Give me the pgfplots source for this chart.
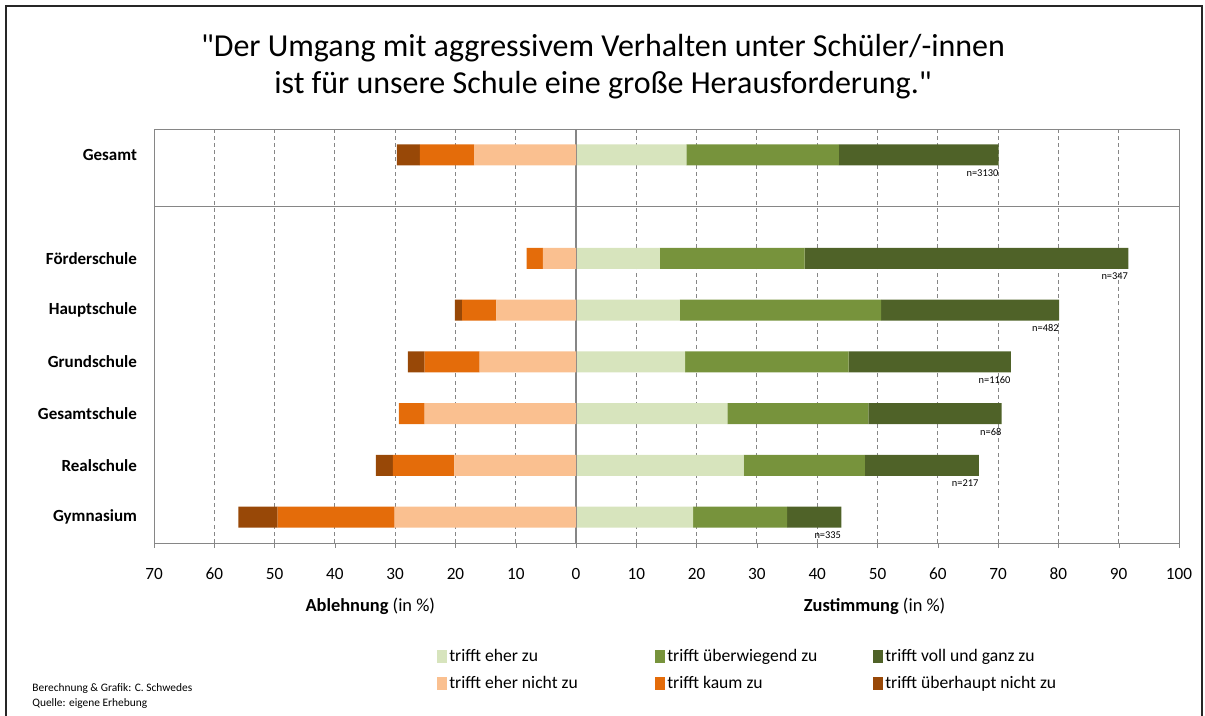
\documentclass[border=0pt]{standalone}
\usepackage{pgfplots}
\usepackage{pgfplotstable}
\pgfplotsset{compat=1.18}
\usepackage{fontspec}
\setmainfont{Carlito}[Ligatures=TeXOff]
\definecolor{c1}{HTML}{D7E4BD}
\definecolor{c2}{HTML}{77933C}
\definecolor{c3}{HTML}{4F6228}
\definecolor{c4}{HTML}{FAC090}
\definecolor{c5}{HTML}{E46C0A}
\definecolor{c6}{HTML}{984807}
\definecolor{ax}{HTML}{868686}

% positive side: trifft eher zu / ueberwiegend / voll und ganz
\pgfplotstableread{
y a b c
0 19.4 15.6 9.0
1 27.8 20.1 18.9
2 25.1 23.4 22.1
3 18.1 27.1 26.9
4 17.2 33.4 29.5
5 13.9 24.0 53.7
7 18.3 25.3 26.5
}\tabpos
% negative side: eher nicht / kaum / ueberhaupt nicht
\pgfplotstableread{
y a b c
0 -30.1 -19.4 -6.5
1 -20.2 -10.2 -2.8
2 -25.1 -4.3 0
3 -16.0 -9.1 -2.8
4 -13.2 -5.7 -1.2
5 -5.5 -2.7 0
7 -16.9 -9.0 -3.8
}\tabneg

\pgfplotsset{
  myaxis/.style={scale only axis, width=512.5pt, height=207pt,
    xmin=-70, xmax=100, ymin=-0.5, ymax=7.5,
    at={(77pt,86.5pt)}, anchor=south west,
    xbar stacked, bar width=0.41},
  sqleg/.style={legend image code/.code={\fill[##1] (0pt,-3.3pt) rectangle (5pt,3.3pt);}},
}

\begin{document}
\begin{tikzpicture}[x=0.5pt,y=0.5pt]
\path[use as bounding box] (0,0) rectangle (1205,716);
\draw[black!85, line width=0.7pt] (6,0) -- (6,710) -- (1202,710) -- (1202,0);

\node[align=center, font=\fontsize{16}{18.5}\selectfont] at (603,649)
  {"Der Umgang mit aggressivem Verhalten unter Schüler/-innen\\ist für unsere Schule eine große Herausforderung."};

\node[anchor=west, inner sep=0pt, font=\fontsize{5.7}{6}\selectfont] at (32,27) {Berechnung \& Grafik: C. Schwedes};
\node[anchor=west, inner sep=0pt, font=\fontsize{5.7}{6}\selectfont] at (32,12) {Quelle: eigene Erhebung};

\begin{axis}[myaxis, clip=false,
  axis line style={ax},
  xtick={-70,-60,...,100},
  xticklabels={70,60,50,40,30,20,10,0,10,20,30,40,50,60,70,80,90,100},
  minor xtick={-60,-50,...,90},
  xtick pos=left, ytick pos=left, tick align=outside, major tick length=2.5pt,
  minor tick length=0pt,
  tick style={ax},
  ytick={0,1,2,3,4,5,7},
  yticklabels={Gymnasium,Realschule,Gesamtschule,Grundschule,Hauptschule,Förderschule,Gesamt},
  ytick style={draw=none},
  yticklabel style={font=\bfseries\fontsize{8.5}{10}\selectfont, xshift=-2.5pt},
  xticklabel style={font=\fontsize{8.6}{10}\selectfont, yshift=-6.5pt},
  xminorgrids, minor grid style={ax, dash pattern=on 2pt off 1.6pt, line width=0.5pt},
  legend columns=3,
  legend style={draw=none, fill=none, at={(0.276,-0.252)}, anchor=north west,
    inner sep=0pt, row sep=5pt,
    nodes={inner xsep=1pt, inner ysep=0pt, text height=6.8pt, text depth=1.8pt,
      font=\fontsize{8.8}{10}\selectfont},
    /tikz/every even column/.append style={column sep=7pt}},
]
\addplot[fill=c1, draw=none, sqleg] table[x=a,y=y]{\tabpos};
\addlegendentry{\makebox[95pt][l]{trifft eher zu}}
\addplot[fill=c2, draw=none, sqleg] table[x=b,y=y]{\tabpos};
\addlegendentry{\makebox[95pt][l]{trifft überwiegend zu}}
\addplot[fill=c3, draw=none, sqleg] table[x=c,y=y]{\tabpos};
\addlegendentry{\makebox[95pt][l]{trifft voll und ganz zu}}

\addlegendimage{fill=c4, draw=none, sqleg}\addlegendentry{\makebox[95pt][l]{trifft eher nicht zu}}
\addlegendimage{fill=c5, draw=none, sqleg}\addlegendentry{\makebox[95pt][l]{trifft kaum zu}}
\addlegendimage{fill=c6, draw=none, sqleg}\addlegendentry{\makebox[95pt][l]{trifft überhaupt nicht zu}}

\node[anchor=east, inner sep=0pt, font=\fontsize{5.2}{6}\selectfont] at (axis cs:70.1,6.65) {n=3130};
\node[anchor=east, inner sep=0pt, font=\fontsize{5.2}{6}\selectfont] at (axis cs:91.6,4.65) {n=347};
\node[anchor=east, inner sep=0pt, font=\fontsize{5.2}{6}\selectfont] at (axis cs:80.1,3.65) {n=482};
\node[anchor=east, inner sep=0pt, font=\fontsize{5.2}{6}\selectfont] at (axis cs:72.1,2.65) {n=1160};
\node[anchor=east, inner sep=0pt, font=\fontsize{5.2}{6}\selectfont] at (axis cs:70.6,1.65) {n=68};
\node[anchor=east, inner sep=0pt, font=\fontsize{5.2}{6}\selectfont] at (axis cs:66.8,0.65) {n=217};
\node[anchor=east, inner sep=0pt, font=\fontsize{5.2}{6}\selectfont] at (axis cs:44.0,-0.35) {n=335};

\node[font=\fontsize{9.2}{10}\selectfont] at (rel axis cs:0.211,-0.152) {\textbf{Ablehnung} (in \%)};
\node[font=\fontsize{9.2}{10}\selectfont] at (rel axis cs:0.703,-0.152) {\textbf{Zustimmung} (in \%)};
\end{axis}

\begin{axis}[myaxis, hide axis]
\addplot[fill=c4, draw=none] table[x=a,y=y]{\tabneg};
\addplot[fill=c5, draw=none] table[x=b,y=y]{\tabneg};
\addplot[fill=c6, draw=none] table[x=c,y=y]{\tabneg};
\draw[ax, line width=0.6pt] (axis cs:-70,6) -- (axis cs:100,6);
\draw[ax, line width=0.6pt] (axis cs:0,-0.5) -- (axis cs:0,7.5);
\end{axis}
\end{tikzpicture}
\end{document}
